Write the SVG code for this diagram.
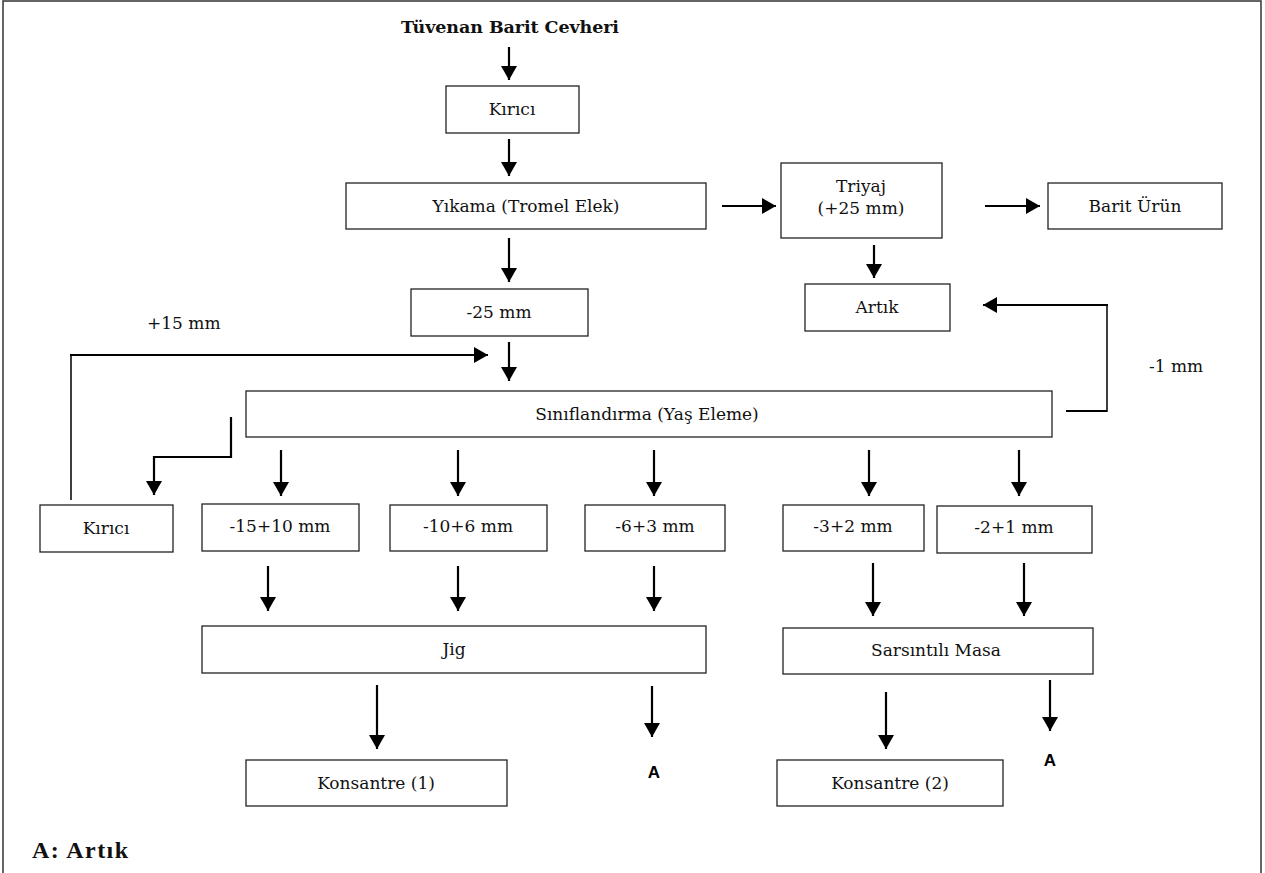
<svg xmlns="http://www.w3.org/2000/svg" width="1265" height="873" viewBox="0 0 1265 873">
<style>
.box{fill:#fff;stroke:#222;stroke-width:1.3}
.lbl{font-family:"DejaVu Serif","Liberation Serif",serif;font-size:17px;fill:#111;text-anchor:middle}
.arr{fill:none;stroke:#000;stroke-width:2.2}
.thin{fill:none;stroke:#000;stroke-width:1.5}
.tnr{font-family:"DejaVu Serif","Liberation Serif",serif;font-size:17px;fill:#111}
.asans{font-family:"Liberation Sans",Arial,sans-serif;font-weight:bold;font-size:17px;fill:#000;text-anchor:middle}
</style>
<defs>
<marker id="ah" viewBox="0 -8 14 16" refX="14" refY="0" markerWidth="14" markerHeight="16" markerUnits="userSpaceOnUse" orient="auto">
<path d="M0,-8 L14,0 L0,8 z" fill="#000"/>
</marker>
</defs>
<rect x="0" y="0" width="1265" height="873" fill="#fff"/>
<rect x="3" y="1" width="1258" height="890" fill="none" stroke="#333" stroke-width="1.5"/>

<g id="title"><text x="510" y="33" font-family="'DejaVu Serif','Liberation Serif',serif" font-weight="bold" font-size="17.5" text-anchor="middle" textLength="218" fill="#111">Tüvenan Barit Cevheri</text></g>

<g id="kirici1"><rect class="box" x="446" y="86" width="133" height="47"/><text class="lbl" x="512" y="115">Kırıcı</text></g>
<g id="yikama"><rect class="box" x="346" y="183" width="360" height="46"/><text class="lbl" x="526" y="212">Yıkama (Tromel Elek)</text></g>
<g id="triyaj"><rect class="box" x="781" y="163" width="161" height="75"/><text class="lbl" x="861" y="192">Triyaj</text><text class="lbl" x="861" y="214">(+25 mm)</text></g>
<g id="barit"><rect class="box" x="1048" y="183" width="174" height="46"/><text class="lbl" x="1135" y="212">Barit Ürün</text></g>
<g id="artik"><rect class="box" x="805" y="284" width="145" height="47"/><text class="lbl" x="877" y="313">Artık</text></g>
<g id="m25"><rect class="box" x="411" y="289" width="177" height="47"/><text class="lbl" x="499" y="318">-25 mm</text></g>
<g id="sinif"><rect class="box" x="246" y="391" width="806" height="46"/><text class="lbl" x="647" y="420">Sınıflandırma (Yaş Eleme)</text></g>
<g id="kirici2"><rect class="box" x="40" y="505" width="133" height="47"/><text class="lbl" x="106" y="534">Kırıcı</text></g>
<g id="f1510"><rect class="box" x="202" y="504" width="157" height="47"/><text class="lbl" x="280" y="532">-15+10 mm</text></g>
<g id="f106"><rect class="box" x="390" y="505" width="157" height="46"/><text class="lbl" x="468" y="532">-10+6 mm</text></g>
<g id="f63"><rect class="box" x="585" y="505" width="140" height="46"/><text class="lbl" x="655" y="532">-6+3 mm</text></g>
<g id="f32"><rect class="box" x="783" y="505" width="141" height="46"/><text class="lbl" x="853" y="532">-3+2 mm</text></g>
<g id="f21"><rect class="box" x="937" y="506" width="155" height="47"/><text class="lbl" x="1014" y="533">-2+1 mm</text></g>
<g id="jig"><rect class="box" x="202" y="626" width="504" height="47"/><text class="lbl" x="454" y="655">Jig</text></g>
<g id="masa"><rect class="box" x="783" y="628" width="310" height="46"/><text class="lbl" x="936" y="656">Sarsıntılı Masa</text></g>
<g id="kons1"><rect class="box" x="246" y="760" width="261" height="46"/><text class="lbl" x="376" y="789">Konsantre (1)</text></g>
<g id="kons2"><rect class="box" x="777" y="760" width="226" height="46"/><text class="lbl" x="890" y="789">Konsantre (2)</text></g>

<g id="connectors">
<line class="arr" x1="509" y1="47" x2="509" y2="80" marker-end="url(#ah)"/>
<line class="arr" x1="509" y1="139" x2="509" y2="176" marker-end="url(#ah)"/>
<line class="arr" x1="509" y1="238" x2="509" y2="282" marker-end="url(#ah)"/>
<line class="arr" x1="509" y1="342" x2="509" y2="381" marker-end="url(#ah)"/>
<line class="arr" x1="874" y1="245" x2="874" y2="278" marker-end="url(#ah)"/>
<line class="arr" x1="722" y1="206" x2="776" y2="206" marker-end="url(#ah)"/>
<line class="arr" x1="985" y1="206" x2="1040" y2="206" marker-end="url(#ah)"/>
<line class="arr" x1="281" y1="450" x2="281" y2="496" marker-end="url(#ah)"/>
<line class="arr" x1="458" y1="450" x2="458" y2="496" marker-end="url(#ah)"/>
<line class="arr" x1="654" y1="450" x2="654" y2="496" marker-end="url(#ah)"/>
<line class="arr" x1="869" y1="450" x2="869" y2="496" marker-end="url(#ah)"/>
<line class="arr" x1="1019" y1="450" x2="1019" y2="496" marker-end="url(#ah)"/>
<line class="arr" x1="268" y1="566" x2="268" y2="611" marker-end="url(#ah)"/>
<line class="arr" x1="458" y1="566" x2="458" y2="611" marker-end="url(#ah)"/>
<line class="arr" x1="654" y1="566" x2="654" y2="611" marker-end="url(#ah)"/>
<line class="arr" x1="873" y1="563" x2="873" y2="616" marker-end="url(#ah)"/>
<line class="arr" x1="1024" y1="563" x2="1024" y2="616" marker-end="url(#ah)"/>
<line class="arr" x1="377" y1="685" x2="377" y2="749" marker-end="url(#ah)"/>
<line class="arr" x1="652" y1="686" x2="652" y2="737" marker-end="url(#ah)"/>
<line class="arr" x1="886" y1="692" x2="886" y2="749" marker-end="url(#ah)"/>
<line class="arr" x1="1050" y1="680" x2="1050" y2="731" marker-end="url(#ah)"/>
<polyline class="arr" points="231,417 231,457 154,457 154,495" marker-end="url(#ah)"/>
<line class="thin" x1="71" y1="500" x2="71" y2="355"/>
<line class="arr" x1="70" y1="355" x2="488" y2="355" marker-end="url(#ah)"/>
<polyline class="arr" points="1066,411 1107,411"/>
<line class="thin" x1="1107" y1="412" x2="1107" y2="305"/>
<line class="arr" x1="1108" y1="305" x2="983" y2="305" marker-end="url(#ah)"/>
</g>

<g id="labels">
<text class="tnr" x="147" y="329">+15 mm</text>
<text class="tnr" x="1149" y="372">-1 mm</text>
<text class="asans" x="654" y="778">A</text>
<text class="asans" x="1050" y="766">A</text>
<text x="32" y="858" font-family="'Liberation Serif',serif" font-weight="bold" font-size="24" textLength="96" fill="#111">A: Artık</text>
</g>
</svg>
